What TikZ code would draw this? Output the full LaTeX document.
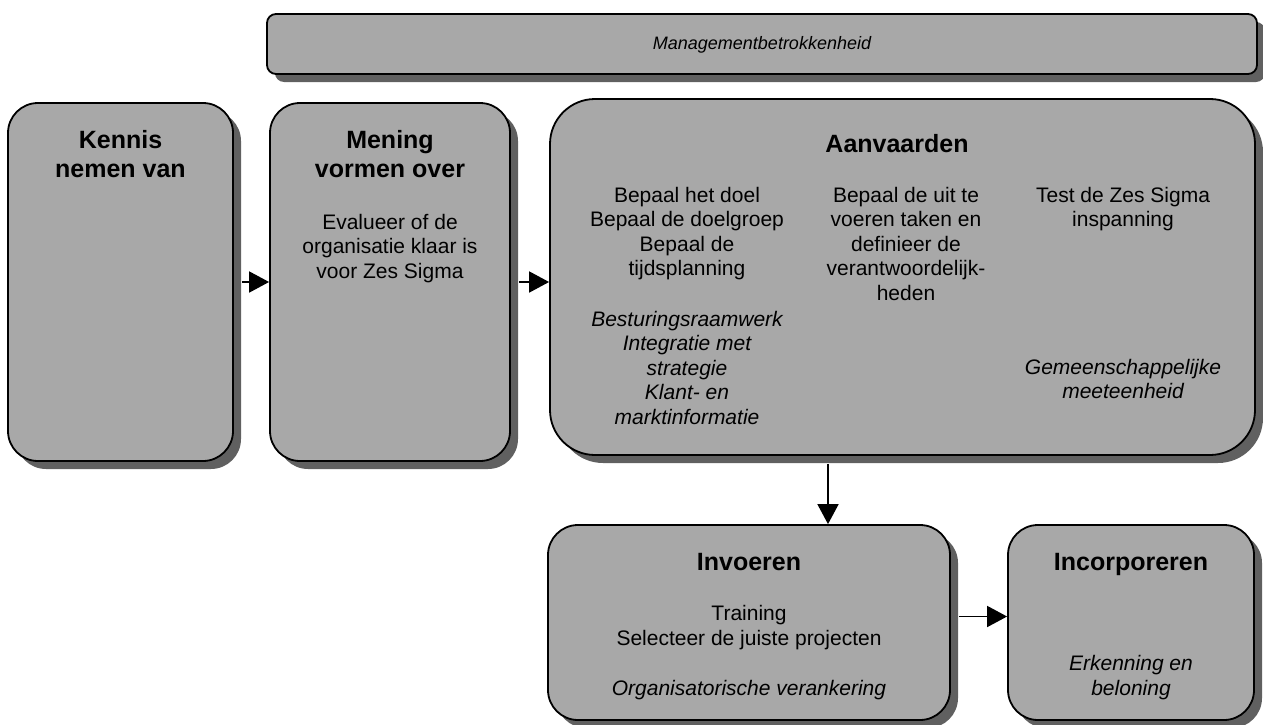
\documentclass[tikz,border=0pt]{standalone}
\usepackage{fontspec}
\setmainfont{Liberation Sans}
\usetikzlibrary{arrows.meta,shadows}
\definecolor{boxgray}{RGB}{168,168,168}
\definecolor{shadowgray}{RGB}{96,96,96}
\begin{document}
\begin{tikzpicture}[x=1pt,y=-1pt,
  box/.style={draw=black, line width=1.8pt, fill=boxgray, inner sep=0pt,
    drop shadow={shadow xshift=8pt, shadow yshift=-8pt, fill=shadowgray, opacity=1}},
  % multi-line texts are placed by the baseline of their last line
  ttl/.style={font=\bfseries\fontsize{25}{29}\selectfont, align=center, inner sep=0pt, anchor=base},
  txt/.style={font=\fontsize{21}{24.5}\selectfont, align=center, inner sep=0pt, anchor=base},
  itx/.style={txt, font=\itshape\fontsize{21}{24.5}\selectfont},
  arr/.style={line width=1.8pt, -{Triangle[length=20pt,width=21pt]}}]
\useasboundingbox (0,0) rectangle (1263,725);

% boxes
\node[box, rounded corners=9pt, minimum width=990pt, minimum height=60pt] (mgmt) at (762,44) {};
\node[box, rounded corners=30pt, minimum width=225pt, minimum height=358pt] (kennis) at (120.5,282) {};
\node[box, rounded corners=30pt, minimum width=240pt, minimum height=358pt] (mening) at (390,282) {};
\node[box, rounded corners=45pt, minimum width=705pt, minimum height=356pt] (aanv) at (902.5,277) {};
\node[box, rounded corners=30pt, minimum width=402pt, minimum height=195pt] (invoer) at (749,622.5) {};
\node[box, rounded corners=30pt, minimum width=246pt, minimum height=195pt] (incorp) at (1131,622.5) {};

% texts
\node[font=\itshape\fontsize{18}{21}\selectfont, inner sep=0pt, anchor=base] (mgmttxt) at (762,50) {Managementbetrokkenheid};

\node[ttl] (kennist) at (120.5,177) {Kennis\\nemen van};

\node[ttl] (meningt) at (390,177) {Mening\\vormen over};
\node[txt] (meningb) at (390,278) {Evalueer of de\\organisatie klaar is\\voor Zes Sigma};

\node[ttl] (aanvt) at (897,152) {Aanvaarden};
\node[txt] (doel) at (687,275.5) {Bepaal het doel\\Bepaal de doelgroep\\Bepaal de\\tijdsplanning};
\node[itx] (besturing) at (687,424) {Besturingsraamwerk\\Integratie met\\strategie\\Klant- en\\marktinformatie};
\node[txt] (taken) at (906,300) {Bepaal de uit te\\voeren taken en\\definieer de\\verantwoordelijk-\\heden};
\node[txt] (test) at (1123,226.5) {Test de Zes Sigma\\inspanning};
\node[itx] (meet) at (1123,398.5) {Gemeenschappelijke\\meeteenheid};

\node[ttl] (invoert) at (749,570) {Invoeren};
\node[txt] (training) at (749,645) {Training\\Selecteer de juiste projecten};
\node[itx] (veranker) at (749,695) {Organisatorische verankering};

\node[ttl] (incorpt) at (1131,570) {Incorporeren};
\node[itx] (erkenning) at (1131,695) {Erkenning en\\beloning};

% connectors, leaving each box from the outer edge of its shadow
\coordinate (drop) at (828,0);
\draw[arr] ([xshift=8pt]kennis.east) -- (mening.west);
\draw[arr] ([xshift=8pt]mening.east) -- (mening.east -| aanv.west);
\draw[arr] ([yshift=-8pt]aanv.south -| drop) -- (invoer.north -| drop);
\draw[arr] ([xshift=8pt,yshift=6pt]invoer.east) -- ([yshift=6pt]invoer.east -| incorp.west);
\end{tikzpicture}
\end{document}
